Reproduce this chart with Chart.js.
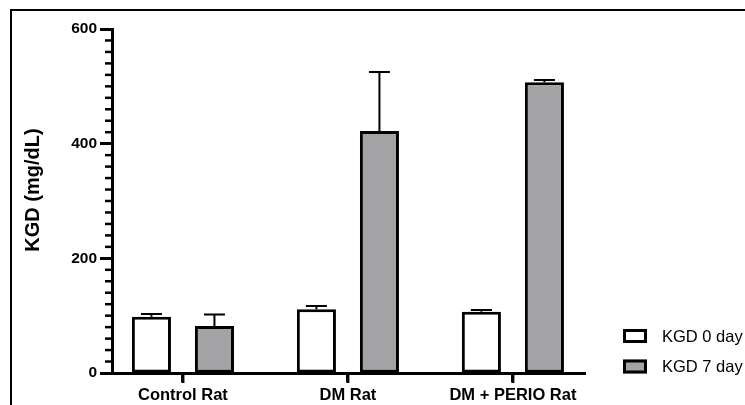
<!DOCTYPE html>
<html>
<head>
<meta charset="utf-8">
<script src="https://cdn.jsdelivr.net/npm/chart.js@4.4.1/dist/chart.umd.min.js"></script>
<style>
  html, body { margin: 0; padding: 0; background: #fff; overflow: hidden; }
  #frame { position: absolute; left: 10px; top: 9px; width: 800px; height: 450px; border: 2px solid #000; }
  #chart { position: absolute; left: 0; top: 0; }
</style>
</head>
<body>
<div id="frame"></div>
<canvas id="chart" width="745" height="405"></canvas>
<script>
const groups = ["Control Rat", "DM Rat", "DM + PERIO Rat"];
const seriesNames = ["KGD 0 day", "KGD 7 day"];
const day0Mean = [98, 111, 107];
const day0Sd = [5, 6, 3];
const day7Mean = [82, 422, 507];
const day7Sd = [20, 103, 4];
const yTicks = [0, 200, 400, 600];
const yMinorStep = 20;
const yTitle = "KGD (mg/dL)";

const FONT = '"Liberation Sans", Arial, Helvetica, sans-serif';
Chart.defaults.color = "#000";
Chart.defaults.font.family = FONT;

// error bars (upward only, SD), short minor y ticks, category ticks
const errorBars = {
  id: "errorBars",
  afterDatasetsDraw(chart) {
    const ctx = chart.ctx;
    const x = chart.scales.x;
    const y = chart.scales.y;
    const area = chart.chartArea;
    ctx.save();
    ctx.strokeStyle = "#000";
    ctx.lineWidth = 2;
    chart.data.datasets.forEach((ds, di) => {
      chart.getDatasetMeta(di).data.forEach((bar, i) => {
        const top = y.getPixelForValue(ds.data[i].y + ds.sd[i]);
        ctx.beginPath();
        ctx.moveTo(bar.x, bar.y);
        ctx.lineTo(bar.x, top);
        ctx.moveTo(bar.x - 10.5, top);
        ctx.lineTo(bar.x + 10.5, top);
        ctx.stroke();
      });
    });

    ctx.lineWidth = 2.5;
    for (let v = yMinorStep; v < 600; v += yMinorStep) {
      if (v % 200 === 0) continue;
      const py = y.getPixelForValue(v);
      ctx.beginPath();
      ctx.moveTo(area.left - 7, py);
      ctx.lineTo(area.left + 1, py);
      ctx.stroke();
    }

    ctx.lineWidth = 3;
    groups.forEach((g, i) => {
      const px = x.getPixelForValue(i);
      ctx.beginPath();
      ctx.moveTo(px, area.bottom);
      ctx.lineTo(px, area.bottom + 10);
      ctx.stroke();
    });
    ctx.restore();
  },
};

// y title and legend in the lower right corner
const sideLegend = {
  id: "sideLegend",
  afterDraw(chart) {
    const ctx = chart.ctx;
    ctx.save();
    ctx.fillStyle = "#000";
    ctx.font = "bold 20px " + FONT;
    ctx.textAlign = "center";
    ctx.textBaseline = "middle";
    ctx.translate(33, 190);
    ctx.rotate(-Math.PI / 2);
    ctx.fillText(yTitle, 0, 0);
    ctx.restore();

    const rows = [336, 366.5];
    ctx.save();
    ctx.font = "16.5px " + FONT;
    ctx.textBaseline = "middle";
    chart.data.datasets.forEach((ds, i) => {
      const cy = rows[i];
      ctx.fillStyle = ds.backgroundColor;
      ctx.fillRect(623, cy - 7, 24, 14);
      ctx.strokeStyle = "#000";
      ctx.lineWidth = 3;
      ctx.strokeRect(624.5, cy - 5.5, 21, 11);
      ctx.fillStyle = "#000";
      ctx.fillText(ds.label, 662, cy + 1);
    });
    ctx.restore();
  },
};

const barStyle = {
  borderColor: "#000",
  borderWidth: 3,
  borderSkipped: false,
  categoryPercentage: 0.764,
  barPercentage: 0.62,
};

new Chart(document.getElementById("chart"), {
  type: "bar",
  data: {
    datasets: [
      {
        label: seriesNames[0],
        data: day0Mean.map((v, i) => ({ x: i, y: v })),
        sd: day0Sd,
        backgroundColor: "#ffffff",
        ...barStyle,
      },
      {
        label: seriesNames[1],
        data: day7Mean.map((v, i) => ({ x: i, y: v })),
        sd: day7Sd,
        backgroundColor: "#a3a3a5",
        ...barStyle,
      },
    ],
  },
  options: {
    responsive: false,
    animation: false,
    layout: { padding: { left: 10, right: 160, top: 29, bottom: 0 } },
    plugins: { legend: { display: false }, tooltip: { enabled: false } },
    scales: {
      x: {
        type: "linear",
        offset: false,
        min: -0.43,
        max: 2.437,
        afterBuildTicks: (s) => { s.ticks = groups.map((g, i) => ({ value: i })); },
        afterFit: (s) => { s.height = 32; },
        ticks: {
          callback: (v) => groups[v],
          font: { size: 16.5, weight: "bold" },
          padding: 4,
          maxRotation: 0,
          autoSkip: false,
        },
        grid: { offset: false, drawOnChartArea: false, tickLength: 9, tickWidth: 3, tickColor: "#000" },
        border: { color: "#000", width: 3 },
      },
      y: {
        min: 0,
        max: 600,
        afterBuildTicks: (s) => { s.ticks = yTicks.map((v) => ({ value: v })); },
        afterFit: (s) => { s.width = 102; },
        ticks: { font: { size: 15.5, weight: "bold" }, padding: 3 },
        grid: { drawOnChartArea: false, tickLength: 12, tickWidth: 3, tickColor: "#000" },
        border: { color: "#000", width: 3 },
      },
    },
  },
  plugins: [errorBars, sideLegend],
});
</script>
</body>
</html>
